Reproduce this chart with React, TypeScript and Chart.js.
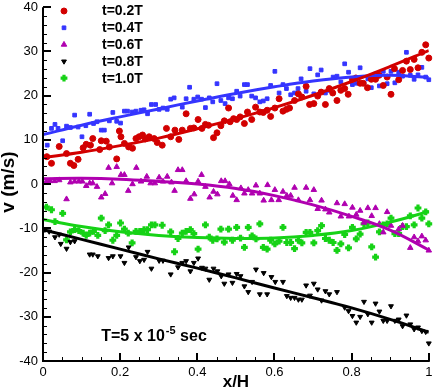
import React, { useEffect, useRef } from "react";
import { Chart, registerables } from "chart.js";
import { drawPoint } from "chart.js/helpers";

Chart.register(...registerables);

const X_TICKS = [0, 0.2, 0.4, 0.6, 0.8, 1];
const X_TICK_LABELS = ["0", "0.2", "0.4", "0.6", "0.8", "1"];
const Y_TICKS = [-40, -30, -20, -10, 0, 10, 20, 30, 40];
const Y_TICK_LABELS = ["-40", "-30", "-20", "-10", "0", "10", "20", "30", "40"];
const X_MINOR_STEP = 0.05;
const Y_MINOR_STEP = 2;

const SERIES_LABELS = ["t=0.2T", "t=0.4T", "t=0.6T", "t=0.8T", "t=1.0T"];
const X_TITLE = "x/H";
const Y_TITLE = "v (m/s)";

const FIT_X = [0, 0.1, 0.2, 0.3, 0.4, 0.5, 0.6, 0.7, 0.8, 0.9, 1.0];
const FIT_T02 = [6.0, 7.2, 8.7, 10.4, 12.5, 14.8, 17.3, 20.1, 23.2, 26.6, 30.2];
const FIT_T04 = [11.2, 13.3, 15.2, 17.0, 18.8, 20.5, 22.0, 23.3, 24.2, 24.6, 24.1];
const FIT_T06 = [1.2, 1.3, 1.1, 0.6, 0.0, -1.0, -2.6, -4.7, -7.3, -10.4, -14.9];
const FIT_T08 = [-10.3, -12.5, -14.7, -16.9, -19.0, -21.2, -23.5, -25.7, -28.0, -30.6, -33.5];
const FIT_T10 = [-8.0, -9.6, -10.8, -11.6, -12.1, -12.3, -12.2, -11.6, -10.5, -8.6, -6.2];

const T02_POINTS: [number, number][] = [
  [0.010, 6.2], [0.022, 4.7], [0.042, 8.5], [0.061, 6.9], [0.071, 4.7], [0.080, 4.2], [0.091, 5.6],
  [0.104, 8.2], [0.112, 9.0], [0.123, 8.8], [0.129, 10.3], [0.147, 7.8], [0.151, 9.8], [0.164, 9.7],
  [0.172, 8.4], [0.191, 5.7], [0.198, 12.0], [0.202, 10.7], [0.211, 9.2], [0.222, 8.4], [0.232, 8.1],
  [0.241, 10.3], [0.249, 10.7], [0.258, 11.1], [0.265, 10.2], [0.275, 10.7], [0.288, 10.3], [0.296, 9.4],
  [0.309, 8.8], [0.320, 12.6], [0.331, 10.7], [0.342, 12.2], [0.352, 10.1], [0.361, 12.2], [0.371, 15.9],
  [0.382, 12.6], [0.391, 12.7], [0.402, 14.6], [0.412, 12.6], [0.421, 13.5], [0.429, 13.3], [0.442, 10.5],
  [0.451, 11.6], [0.461, 13.2], [0.470, 14.3], [0.481, 17.2], [0.485, 14.1], [0.494, 14.8], [0.502, 14.6],
  [0.511, 15.2], [0.522, 13.7], [0.530, 16.3], [0.541, 14.6], [0.551, 17.4], [0.562, 16.3], [0.571, 16.2],
  [0.581, 16.7], [0.590, 15.3], [0.601, 17.2], [0.612, 19.3], [0.622, 16.5], [0.631, 16.9], [0.639, 17.2],
  [0.652, 18.9], [0.662, 20.4], [0.671, 19.7], [0.682, 22.1], [0.691, 18.0], [0.702, 18.2], [0.712, 19.9],
  [0.721, 20.8], [0.732, 18.0], [0.742, 21.6], [0.751, 20.6], [0.762, 18.9], [0.772, 21.2], [0.782, 21.6],
  [0.791, 20.3], [0.802, 23.7], [0.811, 24.0], [0.822, 22.8], [0.830, 22.8], [0.841, 21.8], [0.851, 23.7],
  [0.862, 23.7], [0.871, 24.6], [0.882, 22.3], [0.892, 24.2], [0.902, 20.3], [0.911, 26.1], [0.922, 23.6],
  [0.932, 25.7], [0.942, 27.8], [0.952, 25.9], [0.962, 28.2], [0.972, 26.3], [0.982, 29.8], [0.992, 31.5],
  [1.0, 28.5],
];

const T04_POINTS: [number, number][] = [
  [0.011, 8.8], [0.022, 12.6], [0.031, 13.5], [0.039, 12.6], [0.051, 9.8], [0.061, 13.1], [0.071, 12.8],
  [0.082, 15.6], [0.091, 12.9], [0.101, 10.7], [0.111, 13.2], [0.121, 15.8], [0.131, 13.7], [0.140, 14.1],
  [0.151, 12.2], [0.159, 12.2], [0.172, 14.3], [0.181, 16.2], [0.191, 14.2], [0.201, 13.8], [0.211, 16.5],
  [0.219, 16.5], [0.231, 16.3], [0.241, 16.5], [0.254, 16.7], [0.262, 16.8], [0.271, 15.9], [0.281, 18.0],
  [0.292, 18.0], [0.301, 16.9], [0.311, 17.2], [0.322, 16.9], [0.331, 19.2], [0.340, 19.5], [0.361, 17.4],
  [0.371, 19.3], [0.380, 21.9], [0.391, 19.2], [0.401, 19.7], [0.411, 19.2], [0.421, 17.3], [0.431, 19.5],
  [0.440, 18.6], [0.451, 22.7], [0.461, 18.9], [0.472, 18.2], [0.481, 19.5], [0.491, 19.3], [0.502, 21.0],
  [0.511, 19.9], [0.522, 22.5], [0.530, 22.5], [0.541, 19.9], [0.551, 19.5], [0.562, 18.6], [0.571, 18.8],
  [0.581, 19.3], [0.590, 22.3], [0.601, 25.5], [0.612, 20.6], [0.622, 22.5], [0.631, 21.6], [0.642, 20.2],
  [0.652, 20.6], [0.661, 21.6], [0.669, 23.8], [0.682, 21.0], [0.692, 26.1], [0.702, 20.4], [0.712, 24.7],
  [0.721, 25.8], [0.732, 20.6], [0.742, 21.2], [0.752, 24.2], [0.762, 24.4], [0.772, 23.1], [0.782, 27.2],
  [0.792, 25.3], [0.802, 22.5], [0.812, 22.8], [0.822, 26.3], [0.832, 22.8], [0.842, 23.8], [0.851, 21.8],
  [0.862, 24.9], [0.872, 22.2], [0.882, 25.5], [0.892, 22.7], [0.902, 25.5], [0.912, 22.9], [0.922, 25.3],
  [0.932, 24.4], [0.942, 29.8], [0.952, 24.6], [0.962, 23.7], [0.972, 24.7], [0.982, 26.4], [0.992, 24.2],
  [1.0, 23.6],
];

const T06_POINTS: [number, number][] = [
  [0.009, 0.6], [0.018, 0.7], [0.030, 0.7], [0.042, 0.9], [0.061, -3.4], [0.071, 0.4], [0.082, 0.6],
  [0.093, 0.6], [0.102, 0.6], [0.112, -0.4], [0.121, 0.2], [0.129, 0.2], [0.140, -0.6], [0.151, -3.0],
  [0.161, -2.2], [0.170, 3.7], [0.179, 0.2], [0.191, 3.9], [0.202, 2.1], [0.211, 2.1], [0.221, -1.5],
  [0.232, 0.0], [0.242, 3.7], [0.254, 0.6], [0.269, 1.7], [0.279, 0.2], [0.290, 0.2], [0.301, 1.5],
  [0.311, 0.6], [0.322, 1.7], [0.333, 0.4], [0.341, -1.5], [0.350, 3.2], [0.361, 3.2], [0.371, 0.7],
  [0.382, -3.3], [0.392, -2.3], [0.402, 0.6], [0.411, 2.1], [0.421, -0.6], [0.432, -3.0], [0.442, -1.7],
  [0.452, -2.3], [0.462, 0.7], [0.472, 0.7], [0.483, 0.0], [0.492, -2.6], [0.502, -3.6], [0.513, -0.9],
  [0.522, -2.1], [0.532, -1.3], [0.542, -2.1], [0.552, -0.3], [0.562, -2.1], [0.572, -3.7], [0.582, -0.2],
  [0.592, -3.6], [0.601, -1.3], [0.611, -3.6], [0.622, -1.7], [0.632, -2.6], [0.642, -2.6], [0.652, -0.8],
  [0.662, -3.6], [0.682, -0.8], [0.692, -3.6], [0.702, -1.3], [0.712, -5.6], [0.722, -3.7], [0.732, -5.7],
  [0.742, -6.4], [0.762, -4.3], [0.772, -7.3], [0.782, -4.5], [0.793, -7.3], [0.802, -5.3], [0.812, -6.9],
  [0.822, -6.0], [0.832, -8.7], [0.842, -5.4], [0.852, -7.2], [0.862, -5.4], [0.872, -9.0], [0.882, -10.9],
  [0.892, -6.3], [0.902, -9.4], [0.922, -10.2], [0.932, -9.4], [0.952, -14.4], [0.962, -12.0], [0.972, -12.9],
  [0.982, -11.8], [0.992, -12.7], [1.0, -15.0],
];

const T08_POINTS: [number, number][] = [
  [0.005, -10.3], [0.016, -10.7], [0.031, -12.0], [0.042, -11.4], [0.046, -13.5], [0.061, -14.6], [0.071, -13.1],
  [0.082, -12.9], [0.121, -15.9], [0.129, -15.9], [0.142, -16.3], [0.170, -16.7], [0.181, -16.3], [0.201, -16.3],
  [0.211, -17.8], [0.222, -14.3], [0.241, -16.5], [0.251, -17.4], [0.262, -17.1], [0.271, -15.3], [0.281, -19.1],
  [0.301, -17.3], [0.311, -17.3], [0.331, -20.4], [0.350, -18.8], [0.361, -17.8], [0.371, -17.4], [0.382, -19.7],
  [0.391, -17.8], [0.402, -16.8], [0.412, -18.9], [0.421, -19.1], [0.431, -21.6], [0.442, -19.1], [0.452, -19.7],
  [0.462, -20.8], [0.470, -22.5], [0.481, -20.4], [0.491, -22.3], [0.502, -20.3], [0.512, -20.8], [0.522, -23.1],
  [0.532, -24.4], [0.542, -22.1], [0.552, -19.3], [0.562, -24.9], [0.572, -20.1], [0.581, -24.9], [0.592, -21.0],
  [0.602, -22.1], [0.622, -22.1], [0.632, -25.3], [0.642, -25.7], [0.652, -25.7], [0.662, -26.1], [0.671, -26.1],
  [0.682, -22.9], [0.692, -25.2], [0.702, -22.5], [0.712, -23.8], [0.722, -26.3], [0.732, -24.2], [0.742, -24.9],
  [0.762, -24.4], [0.782, -27.9], [0.792, -28.7], [0.802, -29.8], [0.812, -31.3], [0.822, -30.0], [0.832, -26.6],
  [0.842, -29.4], [0.852, -31.3], [0.862, -27.0], [0.872, -28.8], [0.882, -30.9], [0.892, -30.9], [0.902, -27.6],
  [0.912, -30.9], [0.922, -30.6], [0.932, -32.1], [0.942, -29.7], [0.952, -31.7], [0.962, -32.8], [0.972, -32.4],
  [0.982, -33.2], [0.992, -33.4], [1.0, -36.0],
];

const T10_POINTS: [number, number][] = [
  [0.009, -5.2], [0.022, -5.8], [0.031, -8.5], [0.051, -6.6], [0.061, -12.6], [0.071, -10.8], [0.082, -10.3],
  [0.093, -10.5], [0.104, -11.1], [0.112, -11.6], [0.121, -11.1], [0.131, -10.7], [0.142, -11.6], [0.151, -7.7],
  [0.161, -10.5], [0.170, -9.2], [0.181, -12.7], [0.191, -11.6], [0.201, -8.8], [0.211, -10.2], [0.221, -11.1],
  [0.231, -13.3], [0.241, -10.7], [0.251, -10.7], [0.262, -10.3], [0.271, -10.3], [0.281, -9.2], [0.290, -9.2],
  [0.309, -9.3], [0.331, -10.8], [0.341, -15.3], [0.350, -12.3], [0.361, -11.1], [0.371, -10.7], [0.382, -10.3],
  [0.391, -11.2], [0.402, -14.7], [0.421, -9.2], [0.431, -12.0], [0.440, -12.7], [0.451, -12.4], [0.461, -10.2],
  [0.470, -13.1], [0.481, -10.2], [0.491, -12.7], [0.502, -9.8], [0.512, -12.2], [0.522, -14.3], [0.532, -9.8],
  [0.542, -11.7], [0.552, -12.4], [0.562, -9.0], [0.571, -14.3], [0.581, -14.7], [0.590, -12.7], [0.601, -13.5],
  [0.612, -12.9], [0.622, -9.8], [0.632, -13.2], [0.642, -13.2], [0.652, -14.6], [0.662, -12.7], [0.671, -13.3],
  [0.682, -10.9], [0.692, -10.9], [0.702, -13.3], [0.712, -10.5], [0.722, -9.4], [0.732, -12.3], [0.742, -12.7],
  [0.752, -13.2], [0.762, -15.0], [0.772, -13.5], [0.782, -11.4], [0.792, -14.4], [0.802, -9.8], [0.812, -12.4],
  [0.822, -11.3], [0.832, -9.0], [0.842, -8.8], [0.852, -14.2], [0.862, -16.5], [0.872, -10.8], [0.882, -9.2],
  [0.892, -9.0], [0.902, -7.7], [0.912, -11.2], [0.922, -11.2], [0.932, -9.6], [0.942, -9.6], [0.952, -7.2],
  [0.962, -9.2], [0.972, -5.4], [0.982, -7.7], [0.992, -6.3], [1.0, -9.0],
];

const FONT = "'Liberation Sans', Arial, Helvetica, sans-serif";

const SERIES = [
  { label: SERIES_LABELS[0], points: T02_POINTS, fit: FIT_T02, color: "#d20000", style: "circle", radius: 3, rotation: 0, bw: 1 },
  { label: SERIES_LABELS[1], points: T04_POINTS, fit: FIT_T04, color: "#3535ff", style: "rect", radius: 2.6, rotation: 0, bw: 1 },
  { label: SERIES_LABELS[2], points: T06_POINTS, fit: FIT_T06, color: "#b000b0", style: "triangle", radius: 3.2, rotation: 0, bw: 1 },
  { label: SERIES_LABELS[3], points: T08_POINTS, fit: FIT_T08, color: "#000000", style: "triangle", radius: 2.8, rotation: 180, bw: 1 },
  { label: SERIES_LABELS[4], points: T10_POINTS, fit: FIT_T10, color: "#16d216", style: "cross", radius: 3.4, rotation: 0, bw: 3.2 },
];

const decorPlugin = {
  id: "decor",
  afterDatasetsDraw(chart: any) {
    const { ctx, chartArea: ca, scales } = chart;
    const xs = scales.x;
    const ys = scales.y;
    ctx.save();
    ctx.strokeStyle = "#000";
    ctx.lineCap = "butt";
    // axis lines
    ctx.lineWidth = 2;
    ctx.beginPath();
    ctx.moveTo(ca.left, ca.top);
    ctx.lineTo(ca.left, ca.bottom + 1);
    ctx.moveTo(ca.left - 1, ca.bottom);
    ctx.lineTo(ca.right + 1, ca.bottom);
    ctx.stroke();
    // minor ticks
    ctx.lineWidth = 1;
    ctx.beginPath();
    for (let v = xs.min; v <= xs.max + 1e-9; v += X_MINOR_STEP) {
      const px = Math.round(xs.getPixelForValue(v)) + 0.5;
      ctx.moveTo(px, ca.bottom);
      ctx.lineTo(px, ca.bottom - 4);
    }
    for (let v = ys.min; v <= ys.max + 1e-9; v += Y_MINOR_STEP) {
      const py = Math.round(ys.getPixelForValue(v)) + 0.5;
      ctx.moveTo(ca.left, py);
      ctx.lineTo(ca.left + 4, py);
    }
    ctx.stroke();
    // major ticks
    ctx.lineWidth = 2;
    ctx.beginPath();
    xs.ticks.forEach((t: any) => {
      const px = Math.round(xs.getPixelForValue(t.value));
      ctx.moveTo(px, ca.bottom);
      ctx.lineTo(px, ca.bottom - 8);
    });
    ys.ticks.forEach((t: any) => {
      const py = Math.round(ys.getPixelForValue(t.value));
      ctx.moveTo(ca.left, py);
      ctx.lineTo(ca.left + 8, py);
    });
    ctx.stroke();

    // axis titles
    ctx.fillStyle = "#000";
    ctx.font = `bold 17px ${FONT}`;
    ctx.textAlign = "center";
    ctx.textBaseline = "middle";
    ctx.fillText(X_TITLE, (ca.left + ca.right) / 2, 382);
    ctx.save();
    ctx.translate(9, (ca.top + ca.bottom) / 2 - 2);
    ctx.rotate(-Math.PI / 2);
    ctx.font = `bold 19px ${FONT}`;
    ctx.fillText(Y_TITLE, 0, 0);
    ctx.restore();

    // legend
    const pointSets = chart.data.datasets.filter((d: any) => d.isPoints);
    pointSets.forEach((d: any, i: number) => {
      const cy = 11 + i * 16.8;
      ctx.fillStyle = d.backgroundColor;
      ctx.strokeStyle = d.borderColor;
      ctx.lineWidth = d.borderWidth;
      drawPoint(ctx, { pointStyle: d.pointStyle, rotation: d.rotation || 0, radius: d.pointRadius, borderWidth: d.borderWidth }, 64, cy);
      ctx.fillStyle = "#000";
      ctx.font = `bold 14px ${FONT}`;
      ctx.textAlign = "left";
      ctx.textBaseline = "middle";
      ctx.fillText(d.label, 102, cy + 0.5);
    });

    // annotation
    ctx.fillStyle = "#000";
    ctx.textAlign = "left";
    ctx.textBaseline = "alphabetic";
    const ax = xs.getPixelForValue(0.151);
    const ay = ys.getPixelForValue(-35.4);
    ctx.font = `bold 16px ${FONT}`;
    const p1 = "T=5 x 10";
    ctx.fillText(p1, ax, ay);
    let w = ctx.measureText(p1).width;
    ctx.font = `bold 11px ${FONT}`;
    const sup = "-5";
    ctx.fillText(sup, ax + w + 1, ay - 7);
    w += ctx.measureText(sup).width + 1;
    ctx.font = `bold 16px ${FONT}`;
    ctx.fillText(" sec", ax + w, ay);
    ctx.restore();
  },
};

export default function App() {
  const ref = useRef<HTMLCanvasElement | null>(null);
  useEffect(() => {
    if (!ref.current) return;
    const datasets: any[] = [];
    SERIES.forEach((s) => {
      datasets.push({
        type: "line",
        label: s.label + " fit",
        data: FIT_X.map((x, i) => ({ x, y: s.fit[i] })),
        borderColor: s.color,
        borderWidth: 3,
        pointRadius: 0,
        tension: 0.4,
        fill: false,
        order: 0,
      });
    });
    SERIES.forEach((s) => {
      datasets.push({
        type: "scatter",
        isPoints: true,
        label: s.label,
        data: s.points.map(([x, y]) => ({ x, y })),
        backgroundColor: s.color,
        borderColor: s.color,
        borderWidth: s.bw,
        pointStyle: s.style,
        pointRadius: s.radius,
        rotation: s.rotation,
        pointRotation: s.rotation,
        showLine: false,
        clip: false,
        order: 1,
      });
    });
    const chart = new Chart(ref.current, {
      type: "scatter",
      data: { datasets },
      options: {
        responsive: false,
        animation: false,
        devicePixelRatio: 1,
        events: [],
        layout: { padding: { top: 5, right: 4, left: 0, bottom: 0 } },
        plugins: { legend: { display: false }, tooltip: { enabled: false } },
        scales: {
          x: {
            type: "linear",
            min: 0,
            max: 1,
            grid: { display: false, drawTicks: false },
            border: { display: false },
            afterBuildTicks: (s: any) => {
              s.ticks = X_TICKS.map((v) => ({ value: v }));
            },
            afterFit: (s: any) => {
              s.height = 31;
              s.paddingLeft = 0;
              s.paddingRight = 0;
            },
            ticks: {
              autoSkip: false,
              maxRotation: 0,
              padding: 4,
              color: "#000",
              font: { size: 13, family: FONT },
              callback: (v: any) => X_TICK_LABELS[X_TICKS.indexOf(Number(v))] ?? "",
            },
          },
          y: {
            type: "linear",
            min: -40,
            max: 40,
            grid: { display: false, drawTicks: false },
            border: { display: false },
            afterBuildTicks: (s: any) => {
              s.ticks = Y_TICKS.map((v) => ({ value: v }));
            },
            afterFit: (s: any) => {
              s.width = 43;
              s.paddingTop = 0;
              s.paddingBottom = 0;
            },
            ticks: {
              autoSkip: false,
              padding: 5,
              color: "#000",
              font: { size: 13, family: FONT },
              callback: (v: any) => Y_TICK_LABELS[Y_TICKS.indexOf(Number(v))] ?? "",
            },
          },
        },
      },
      plugins: [decorPlugin],
    } as any);
    return () => chart.destroy();
  }, []);
  return (
    <div style={{ position: "absolute", left: 0, top: 0, width: 436, height: 392, background: "#fff" }}>
      <canvas ref={ref} width={436} height={392} style={{ display: "block", width: 436, height: 392 }} />
    </div>
  );
}
